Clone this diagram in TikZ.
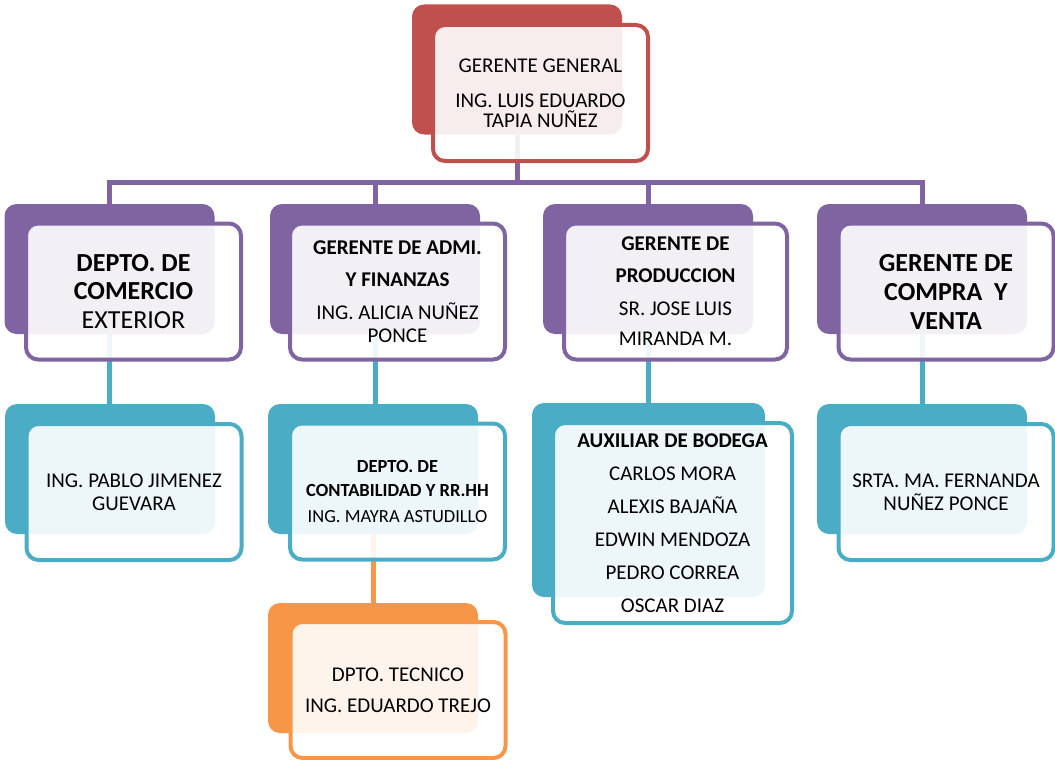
\documentclass[tikz,border=0pt]{standalone}
\usepackage{fontspec}
\setmainfont{Carlito}
\usetikzlibrary{backgrounds}
\definecolor{rojo}{HTML}{C0504D}
\definecolor{morado}{HTML}{8064A2}
\definecolor{celeste}{HTML}{4BACC6}
\definecolor{naranja}{HTML}{F79646}
\tikzset{
	fondo/.style={fill=#1, rounded corners=12pt, minimum width=210pt, minimum height=130pt, inner sep=0pt},
	caja/.style={draw=#1, line width=4pt, fill=white, fill opacity=0.9, text opacity=1, rounded corners=12pt,
		minimum width=215pt, minimum height=136pt, inner sep=0pt, align=center, font=\fontsize{21}{23}\selectfont},
	linea/.style={draw=#1, line width=5pt}
}
\begin{document}
\begin{tikzpicture}[x=1pt, y=-1pt, line join=round]
				\useasboundingbox (0,0) rectangle (1055,760);
				\node[fondo=rojo] (gg) at (517,69.5) {};
				\node[caja=rojo] (ggf) at (540.5,93) {GERENTE GENERAL\\[12pt]ING. LUIS EDUARDO\\[-3pt]TAPIA NUÑEZ};
				\node[fondo=morado] (ce) at (109.5,269) {};
				\node[caja=morado, font=\fontsize{26}{28.5}\selectfont] (cef) at (133.5,291.5) {\textbf{DEPTO. DE}\\\textbf{COMERCIO}\\EXTERIOR};
				\node[fondo=morado] (af) at (375,269) {};
				\node[caja=morado] (aff) at (397.5,291.5) {\textbf{GERENTE DE ADMI.}\\[9pt]\textbf{Y FINANZAS}\\[10pt]ING. ALICIA NUÑEZ\\PONCE};
				\node[fondo=morado] (pr) at (648,269) {};
				\node[caja=morado, minimum width=223pt] (prf) at (675.5,291.5) {\textbf{GERENTE DE}\\[9pt]\textbf{PRODUCCION}\\[10pt]SR. JOSE LUIS\\[7pt]MIRANDA M.};
				\node[fondo=morado] (cv) at (922,269) {};
				\node[caja=morado, font=\fontsize{26}{29}\selectfont] (cvf) at (946,291.5) {\textbf{GERENTE DE}\\\textbf{COMPRA~~Y}\\\textbf{VENTA}};
				\node[fondo=celeste] (pj) at (110,469) {};
				\node[caja=celeste] (pjf) at (134,492) {ING. PABLO JIMENEZ\\GUEVARA};
				\node[fondo=celeste] (co) at (373,469) {};
				\node[caja=celeste, font=\fontsize{18.5}{24}\selectfont] (cof) at (397.5,491.5) {\textbf{DEPTO. DE}\\\textbf{CONTABILIDAD Y RR.HH}\\[2pt]ING. MAYRA ASTUDILLO};
				\node[fondo=celeste, minimum width=233pt, minimum height=194pt] (bo) at (648.5,500) {};
				\node[caja=celeste, minimum width=239pt, minimum height=200pt, font=\fontsize{21}{33}\selectfont] (bof) at (672.5,523) {\textbf{AUXILIAR DE BODEGA}\\CARLOS MORA\\ALEXIS BAJAÑA\\EDWIN MENDOZA\\PEDRO CORREA\\OSCAR DIAZ};
				\node[fondo=celeste] (mf) at (922,469) {};
				\node[caja=celeste] (mff) at (946,492) {SRTA. MA. FERNANDA\\NUÑEZ PONCE};
				\node[fondo=naranja] (te) at (373,668) {};
				\node[caja=naranja] (tef) at (398,690) {DPTO. TECNICO\\[8pt]ING. EDUARDO TREJO};
				\coordinate (bus) at (517,182);
				\begin{scope}[on background layer]
					\draw[linea=morado] (gg.south) -- (bus);
					\draw[linea=morado] (ce.north) |- (bus) -| (cv.north);
					\draw[linea=morado] (af.north) |- (bus);
					\draw[linea=morado] (pr.north) |- (bus);
					\draw[linea=celeste] (ce.south) -- (ce.south |- pj.north);
					\draw[linea=celeste] (af.south) -- (af.south |- co.north);
					\draw[linea=celeste] (pr.south) -- (pr.south |- bo.north);
					\draw[linea=celeste] (cv.south) -- (cv.south |- mf.north);
					\draw[linea=naranja] (co.south) -- (co.south |- te.north);
				\end{scope}
			\end{tikzpicture}
\end{document}
